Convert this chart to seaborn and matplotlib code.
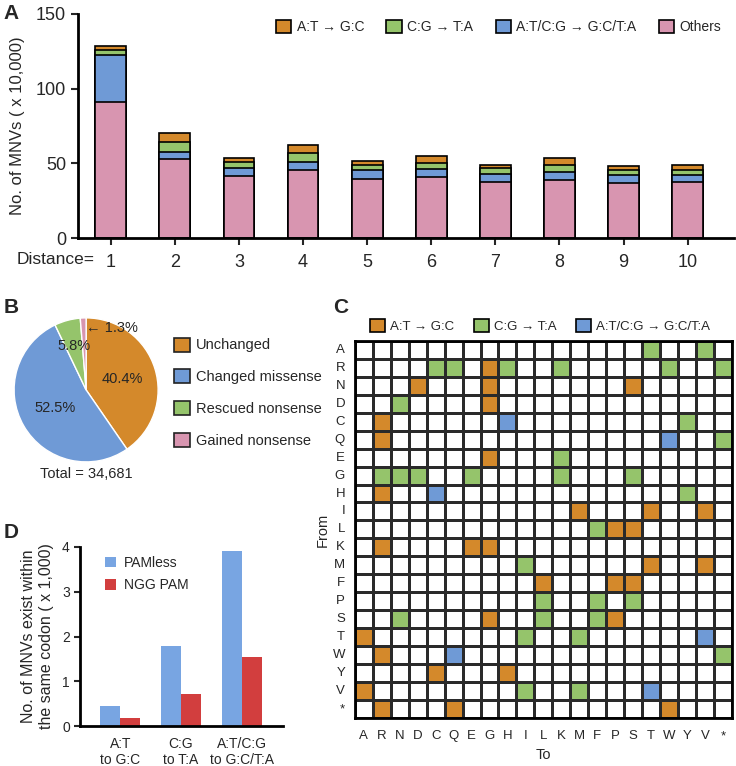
import numpy as np
import pandas as pd
import matplotlib
matplotlib.use("Agg")
import matplotlib.pyplot as plt
from matplotlib.colors import ListedColormap
from matplotlib.patches import Patch
import seaborn as sns

# ---- data ----
distance = ["1", "2", "3", "4", "5", "6", "7", "8", "9", "10"]
others = [90.8, 53.2, 41.8, 45.6, 39.6, 41.1, 37.6, 39.1, 36.9, 37.3]
at_cg = [31.7, 4.3, 5.4, 5.1, 6.0, 5.4, 5.5, 5.2, 5.6, 5.0]
cg_ta = [3.6, 6.9, 3.8, 6.1, 3.6, 4.0, 3.6, 4.9, 3.1, 3.5]
at_gc = [2.4, 6.0, 2.9, 5.8, 2.7, 4.3, 2.5, 4.5, 2.9, 3.4]

pie_labels = ["Unchanged", "Changed missense", "Rescued nonsense", "Gained nonsense"]
pie_values = [40.4, 52.5, 5.8, 1.3]
pie_total = "34,681"

aa = ["A", "R", "N", "D", "C", "Q", "E", "G", "H", "I", "L",
      "K", "M", "F", "P", "S", "T", "W", "Y", "V", "*"]
# o = A:T->G:C, g = C:G->T:A, b = A:T/C:G->G:C/T:A, one string per "From" row
grid_rows = [
    "................g..g.",
    "....gg.og..g.....g..g",
    "...o...o.......o.....",
    "..g....o.............",
    ".o......b.........g..",
    ".o...............b..g",
    ".......o...g.........",
    ".ggg..g....g...g.....",
    ".o..b.............g..",
    "............o...o..o.",
    ".............goo.....",
    ".o....oo.............",
    ".........g......o..o.",
    "..........o...oo.....",
    "..........g..g.g.....",
    "..g....o..g..go......",
    "o........g..g......b.",
    ".o...b..............g",
    "....o...o............",
    "o........g..g...b....",
    ".o...o...........o...",
]

d_groups = ["A:T\nto G:C", "C:G\nto T:A", "A:T/C:G\nto G:C/T:A"]
pamless = [0.46, 1.78, 3.90]
ngg_pam = [0.18, 0.71, 1.54]

ORANGE = "#D4892B"
GREEN = "#95C46B"
BLUE = "#6F9AD6"
PINK = "#D895B0"
D_BLUE = "#78A5E2"
D_RED = "#D23E3E"

sns.set_style("white")
plt.rcParams['font.family'] = ['Liberation Sans', 'DejaVu Sans']

fig = plt.figure(figsize=(7.36, 7.66), dpi=100)

# ---------------- Panel A ----------------
axA = fig.add_axes([0.106, 0.689, 0.891, 0.293])
cum1 = np.array(others)
cum2 = cum1 + np.array(at_cg)
cum3 = cum2 + np.array(cg_ta)
cum4 = cum3 + np.array(at_gc)
for vals, col in [(cum4, ORANGE), (cum3, GREEN), (cum2, BLUE), (cum1, PINK)]:
    sns.barplot(x=distance, y=vals, order=distance, color=col, edgecolor="black",
                linewidth=1.2, width=0.48, saturation=1, ax=axA)
axA.set_xlim(-0.51, 9.72)
axA.set_ylim(0, 150)
axA.set_yticks([0, 50, 100, 150])
axA.set_ylabel("No. of MNVs ( x 10,000)", fontsize=12, labelpad=8)
axA.tick_params(axis="both", labelsize=13, length=5, width=1.5, direction="out",
                bottom=True, left=True)
axA.tick_params(axis="x", pad=6)
for s in ["top", "right"]:
    axA.spines[s].set_visible(False)
for s in ["left", "bottom"]:
    axA.spines[s].set_linewidth(2)
    axA.spines[s].set_color("black")
fig.text(0.022, 0.661, "Distance=", ha="left", va="center", fontsize=12.5)
hA = [Patch(facecolor=c, edgecolor="black", linewidth=1.2, label=l) for c, l in
      [(ORANGE, "A:T → G:C"), (GREEN, "C:G → T:A"),
       (BLUE, "A:T/C:G → G:C/T:A"), (PINK, "Others")]]
axA.legend(handles=hA, loc="upper right", bbox_to_anchor=(1.0, 1.03), ncol=4,
           frameon=False, fontsize=10, handlelength=1.1, handleheight=1.1,
           handletextpad=0.4, columnspacing=1.6)

# ---------------- Panel B ----------------
axB = fig.add_axes([0.019, 0.397, 0.196, 0.188])
wedges, _ = axB.pie(pie_values, colors=[ORANGE, BLUE, GREEN, PINK], startangle=90,
                    counterclock=False, radius=1.0)
axB.set_aspect("equal")
axB.set_xlim(-1, 1)
axB.set_ylim(-1, 1)
lab_r = [0.53, 0.5, 0.63]
for w, v, r in zip(wedges[:3], pie_values[:3], lab_r):
    ang = np.deg2rad((w.theta1 + w.theta2) / 2)
    axB.text(r * np.cos(ang), r * np.sin(ang), f"{v}%", ha="center", va="center",
             fontsize=10.5)
axB.text(0.0, 0.86, f"← {pie_values[3]}%", ha="left", va="center", fontsize=10.5)
axB.text(0, -1.17, f"Total = {pie_total}", ha="center", va="center", fontsize=10.5)
hB = [Patch(facecolor=c, edgecolor="#222222", linewidth=1.2, label=l)
      for c, l in zip([ORANGE, BLUE, GREEN, PINK], pie_labels)]
fig.legend(handles=hB, loc="upper left", bbox_to_anchor=(0.228, 0.567),
           frameon=False, fontsize=10.5, handlelength=1.1, handleheight=1.1,
           handletextpad=0.4, labelspacing=1.15, borderaxespad=0)

# ---------------- Panel C ----------------
code = {".": 0, "o": 1, "g": 2, "b": 3}
mat = pd.DataFrame([[code[ch] for ch in row] for row in grid_rows], index=aa, columns=aa)
axC = fig.add_axes([0.482, 0.0627, 0.5126, 0.4923])
sns.heatmap(mat, cmap=ListedColormap(["white", ORANGE, GREEN, BLUE]), vmin=-0.5,
            vmax=3.5, cbar=False, linewidths=1.0, linecolor="#2a2a2a", square=True,
            ax=axC)
for s in axC.spines.values():
    s.set_visible(True)
    s.set_linewidth(2)
    s.set_color("black")
axC.tick_params(axis="both", length=0, labelsize=9.5)
axC.tick_params(axis="x", pad=9)
axC.tick_params(axis="y", pad=7)
axC.set_yticklabels(aa, rotation=0)
axC.set_xticklabels(aa, rotation=0)
axC.set_xlabel("To", fontsize=10.5, labelpad=4)
axC.set_ylabel("From", fontsize=10.5, labelpad=2)
hC = [Patch(facecolor=c, edgecolor="black", linewidth=1.2, label=l) for c, l in
      [(ORANGE, "A:T → G:C"), (GREEN, "C:G → T:A"), (BLUE, "A:T/C:G → G:C/T:A")]]
axC.legend(handles=hC, loc="lower left", bbox_to_anchor=(0.02, 1.0), ncol=3,
           frameon=False, fontsize=9.5, handlelength=1.1, handleheight=1.1,
           handletextpad=0.4, columnspacing=1.5, borderaxespad=0.2)

# ---------------- Panel D ----------------
dfD = pd.DataFrame({
    "group": d_groups * 2,
    "value": pamless + ngg_pam,
    "type": ["PAMless"] * 3 + ["NGG PAM"] * 3,
})
axD = fig.add_axes([0.109, 0.052, 0.276, 0.234])
sns.barplot(data=dfD, x="group", y="value", hue="type", order=d_groups,
            hue_order=["PAMless", "NGG PAM"], palette=[D_BLUE, D_RED], width=0.66,
            saturation=1, linewidth=0, ax=axD)
axD.set_xlim(-0.66, 2.69)
axD.set_ylim(0, 4)
axD.set_yticks([0, 1, 2, 3, 4])
axD.set_xlabel("")
axD.set_ylabel("No. of MNVs exist within\nthe same codon ( x 1,000)", fontsize=11.5,
               labelpad=6)
axD.tick_params(axis="both", labelsize=10, length=4, width=1.5, direction="out",
                bottom=False, left=True)
for s in ["top", "right"]:
    axD.spines[s].set_visible(False)
for s in ["left", "bottom"]:
    axD.spines[s].set_linewidth(2)
    axD.spines[s].set_color("black")
axD.legend(loc="upper left", bbox_to_anchor=(0.06, 1.02), frameon=False, fontsize=10,
           handlelength=0.8, handleheight=0.8, handletextpad=0.6, labelspacing=0.6)

# panel letters
for letter, x, y in [("A", 0.005, 0.982), ("B", 0.005, 0.598), ("C", 0.452, 0.598),
                     ("D", 0.005, 0.305)]:
    fig.text(x, y, letter, fontsize=15, fontweight="bold", va="center", ha="left")

fig.savefig("out.png", dpi=100)
